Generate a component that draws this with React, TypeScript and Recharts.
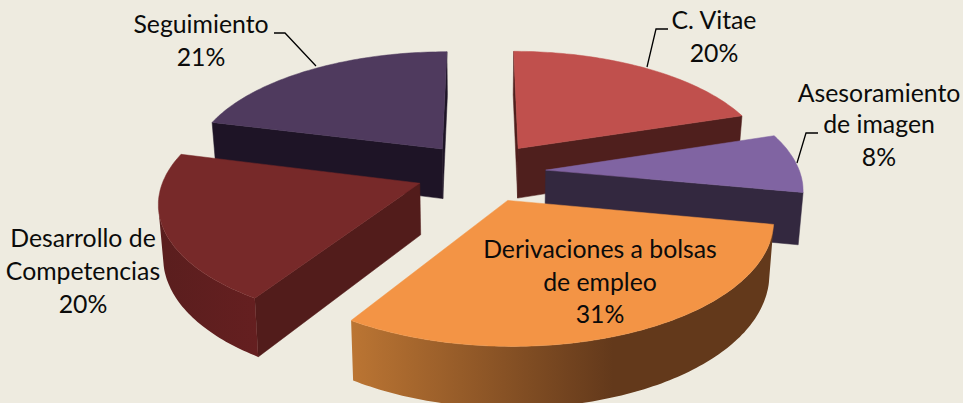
import React from "react";
import { PieChart, Pie } from "recharts";

// slices, drawn back to front so the painter's order works out
const categories = ["Seguimiento", "C. Vitae", "Asesoramiento de imagen", "Derivaciones a bolsas de empleo", "Desarrollo de Competencias"];
const shares = [21, 20, 8, 31, 20];
const labelLines = [["Seguimiento"], ["C. Vitae"], ["Asesoramiento", "de imagen"], ["Derivaciones a bolsas", "de empleo"], ["Desarrollo de", "Competencias"]];

const data = categories.map((name, i) => ({ name, value: shares[i] }));

// look of the faces, same order as categories
const topColors = ["#4F3A5E", "#C0504D", "#8064A2", "#F39445", "#772929"];
const wallColors = ["#1E1426", "#4F1F1D", "#33283F", "#63391B", "#521C1B"];
const rimStops: [string, string][][] = [
  [["0", "#1E1426"], ["1", "#1E1426"]],
  [["0", "#4F1F1D"], ["1", "#4F1F1D"]],
  [["0", "#33283F"], ["1", "#33283F"]],
  [["0", "#BB7533"], ["0.62", "#63391B"], ["1", "#63391B"]],
  [["0", "#5A1E1E"], ["1", "#651F20"]],
];

// label placement: centre x, baselines, leader line
const labelBoxes: { x: number; ys: number[]; leader?: number[][] }[] = [
  { x: 201, ys: [33, 66], leader: [[274, 33], [285, 33], [316, 66]] },
  { x: 714, ys: [29, 62], leader: [[668, 29], [656, 29], [647, 67]] },
  { x: 879, ys: [102, 133, 166], leader: [[818, 133], [806, 133], [797, 163]] },
  { x: 600, ys: [258, 291, 323] },
  { x: 83, ys: [247, 280, 313] },
];

const RADIUS = 254;
const EXPLODE = 65;
const TILT = 0.46;
const PERSP = 0.00055;
const DEPTH = 51;

const rad = (d: number) => (d * Math.PI) / 180;

function WedgeShape(props: any) {
  const { cx, cy, outerRadius, startAngle, endAngle, midAngle, name } = props;
  const i = categories.indexOf(name);
  const lo = Math.min(startAngle, endAngle);
  const hi = Math.max(startAngle, endAngle);
  const ox = EXPLODE * Math.cos(rad(midAngle));
  const oy = -EXPLODE * Math.sin(rad(midAngle));

  const project = (X: number, Y: number, bottom: boolean) => {
    const wx = X + ox;
    const wy = Y + oy;
    const s = 1 / (1 - PERSP * wy);
    const conv = bottom ? 0.985 : 1;
    return [cx + wx * s * conv, cy + (TILT * wy + (bottom ? DEPTH : 0)) * s];
  };
  const rimPt = (deg: number, bottom: boolean) =>
    project(outerRadius * Math.cos(rad(deg)), -outerRadius * Math.sin(rad(deg)), bottom);
  const area = (pts: number[][]) => {
    let sum = 0;
    pts.forEach((p, n) => {
      const q = pts[(n + 1) % pts.length];
      sum += p[0] * q[1] - q[0] * p[1];
    });
    return sum;
  };
  const toPath = (pts: number[][]) => "M" + pts.map((p) => p[0].toFixed(1) + " " + p[1].toFixed(1)).join("L") + "Z";

  const apexTop = project(0, 0, false);
  const apexBot = project(0, 0, true);

  const angles: number[] = [];
  for (let a = lo; a < hi; a += 1) angles.push(a);
  angles.push(hi);

  // outer rim, only the runs that face the viewer
  const rims: number[][][] = [];
  let run: number[][] | null = null;
  for (let n = 0; n < angles.length - 1; n++) {
    const a = angles[n];
    const b = angles[n + 1];
    const quad = [rimPt(a, false), rimPt(b, false), rimPt(b, true), rimPt(a, true)];
    if (area(quad) > 0) {
      if (!run) {
        run = [a, b];
        rims.push(run);
      } else run.push(b);
    } else run = null;
  }

  const walls = [
    [apexTop, rimPt(lo, false), rimPt(lo, true), apexBot],
    [rimPt(hi, false), apexTop, apexBot, rimPt(hi, true)],
  ].filter((q) => area(q) > 0);

  const topPts = [apexTop, ...angles.map((a) => rimPt(a, false))];
  const gradId = "rim" + i;

  return (
    <g>
      <defs>
        <linearGradient id={gradId} x1="0" y1="0" x2="1" y2="0">
          {rimStops[i].map(([offset, color]) => (
            <stop key={offset} offset={offset} stopColor={color} />
          ))}
        </linearGradient>
      </defs>
      {walls.map((q, n) => (
        <path key={n} d={toPath(q)} fill={wallColors[i]} stroke={wallColors[i]} strokeWidth={0.5} />
      ))}
      {rims.map((r, n) => (
        <path
          key={n}
          d={toPath([...r.map((a) => rimPt(a, false)), ...[...r].reverse().map((a) => rimPt(a, true))])}
          fill={`url(#${gradId})`}
        />
      ))}
      <path d={toPath(topPts)} fill={topColors[i]} stroke={topColors[i]} strokeWidth={0.5} />
    </g>
  );
}

function SliceLabel(props: any) {
  const { index, value } = props;
  const box = labelBoxes[index];
  const lines = [...labelLines[index], value + "%"];
  return (
    <g>
      {box.leader && (
        <polyline points={box.leader.map((p) => p.join(",")).join(" ")} fill="none" stroke="#000" strokeWidth={1.3} />
      )}
      <text textAnchor="middle" fontFamily="Lato, 'Open Sans', sans-serif" fontSize={24.8} fill="#0b0b0b">
        {lines.map((line, n) => (
          <tspan key={n} x={box.x} y={box.ys[n]}>
            {line}
          </tspan>
        ))}
      </text>
    </g>
  );
}

export default function App() {
  return (
    <div style={{ position: "absolute", left: 0, top: 0, width: 963, height: 403, background: "#EEEBE0", overflow: "hidden" }}>
      <PieChart width={963} height={403} margin={{ top: 0, right: 0, bottom: 0, left: 0 }}>
        <Pie
          data={data}
          dataKey="value"
          nameKey="name"
          cx={481}
          cy={172}
          outerRadius={RADIUS}
          startAngle={165.6}
          endAngle={-194.4}
          stroke="none"
          shape={WedgeShape}
          inactiveShape={WedgeShape}
          label={SliceLabel}
          labelLine={false}
          isAnimationActive={false}
        />
      </PieChart>
    </div>
  );
}
